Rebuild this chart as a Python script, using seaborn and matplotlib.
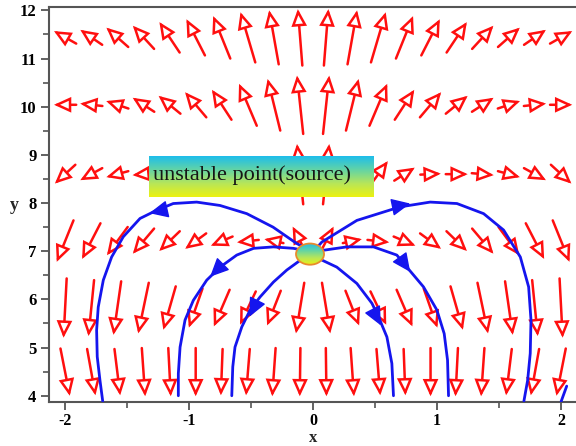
import numpy as np
import matplotlib
matplotlib.use('Agg')
import matplotlib.pyplot as plt
import seaborn as sns
from matplotlib.colors import LinearSegmentedColormap
from matplotlib.patches import Ellipse

sns.set_theme(style='ticks')
plt.rcParams['font.family'] = ['Liberation Serif', 'DejaVu Serif']
plt.rcParams['axes.unicode_minus'] = False

# ---------------- direction field ----------------
X_COLS = [-2.0, -1.789, -1.579, -1.368, -1.158, -0.947, -0.737, -0.526, -0.316, -0.105,
          0.105, 0.316, 0.526, 0.737, 0.947, 1.158, 1.368, 1.579, 1.789, 2.0]
ROW_Y = [11.44, 10.04, 8.60, 7.21, 5.82, 4.49]

U_ROW1 = [-0.179, -0.176, -0.176, -0.171, -0.163, -0.149, -0.138, -0.119, -0.077, -0.036,
          0.036, 0.077, 0.119, 0.138, 0.149, 0.163, 0.171, 0.176, 0.176, 0.179]
V_ROW1 = [0.26, 0.31, 0.40, 0.48, 0.63, 0.75, 0.88, 1.04, 1.12, 1.17,
          1.17, 1.12, 1.04, 0.88, 0.75, 0.63, 0.48, 0.40, 0.31, 0.26]
U_ROW2 = [-0.179, -0.179, -0.179, -0.174, -0.176, -0.171, -0.157, -0.143, -0.102, -0.05,
          0.05, 0.102, 0.143, 0.157, 0.171, 0.176, 0.174, 0.179, 0.179, 0.179]
V_ROW2 = [0.0, 0.05, 0.155, 0.29, 0.37, 0.52, 0.62, 0.87, 1.07, 1.21,
          1.21, 1.07, 0.87, 0.62, 0.52, 0.37, 0.29, 0.155, 0.05, 0.0]
U_ROW3 = [-0.165, -0.177, -0.177, -0.177, -0.177, -0.165, -0.165, -0.153, -0.11, -0.05,
          0.05, 0.11, 0.153, 0.165, 0.165, 0.177, 0.177, 0.177, 0.177, 0.165]
V_ROW3 = [-0.39, -0.25, -0.124, -0.04, 0.0, 0.02, 0.27, 0.54, 0.76, 1.25,
          1.25, 0.76, 0.54, 0.27, 0.02, 0.0, -0.04, -0.124, -0.25, -0.39]
U_ROW4 = [-0.135, -0.148, -0.167, -0.171, -0.165, -0.169, -0.175, -0.175, -0.153, -0.12,
          0.12, 0.153, 0.175, 0.175, 0.169, 0.165, 0.171, 0.167, 0.148, 0.135]
V_ROW4 = [-0.86, -0.74, -0.585, -0.52, -0.41, -0.32, -0.19, -0.05, 0.083, 0.6,
          0.6, 0.083, -0.05, -0.19, -0.32, -0.41, -0.52, -0.585, -0.74, -0.86]
U_ROW5 = [-0.025, -0.045, -0.062, -0.085, -0.1, -0.11, -0.127, -0.127, -0.11, -0.067,
          0.067, 0.11, 0.127, 0.127, 0.11, 0.1, 0.085, 0.062, 0.045, 0.025]
V_ROW5 = [-1.23, -1.16, -1.11, -1.05, -0.9, -0.81, -0.76, -0.69, -0.72, -1.05,
          -1.05, -0.72, -0.69, -0.76, -0.81, -0.9, -1.05, -1.11, -1.16, -1.23]
U_ROW6 = [0.075, 0.067, 0.046, 0.027, 0.02, 0.0, -0.014, -0.03, -0.027, -0.005,
          0.005, 0.027, 0.03, 0.014, 0.0, -0.02, -0.027, -0.046, -0.067, -0.075]
V_ROW6 = [-0.98, -0.96, -0.96, -1.0, -1.0, -1.0, -0.96, -0.96, -1.0, -1.0,
          -1.0, -1.0, -0.96, -0.96, -1.0, -1.0, -1.0, -0.96, -0.96, -0.98]
U_ROWS = [U_ROW1, U_ROW2, U_ROW3, U_ROW4, U_ROW5, U_ROW6]
V_ROWS = [V_ROW1, V_ROW2, V_ROW3, V_ROW4, V_ROW5, V_ROW6]

# ---------------- trajectories ----------------
OUTER_L_X = [0.0, -0.132, -0.323, -0.535, -0.751, -0.939, -1.128, -1.262, -1.396, -1.531,
             -1.625, -1.692, -1.733, -1.746, -1.741, -1.719, -1.697]
OUTER_L_Y = [6.98, 7.16, 7.50, 7.78, 7.95, 8.02, 7.99, 7.85, 7.68, 7.30,
             6.88, 6.40, 5.84, 5.36, 4.81, 4.32, 3.89]
MID_L_X = [0.0, -0.159, -0.32, -0.48, -0.616, -0.75, -0.858, -0.966, -1.033, -1.073, -1.087, -1.087]
MID_L_Y = [6.98, 7.06, 7.09, 7.06, 6.92, 6.67, 6.40, 5.98, 5.57, 5.01, 4.46, 4.0]
INNER_L_X = [0.0, -0.105, -0.212, -0.32, -0.428, -0.508, -0.575, -0.63, -0.648, -0.656]
INNER_L_Y = [6.95, 6.81, 6.61, 6.36, 6.05, 5.78, 5.43, 5.01, 4.60, 4.0]
OUTER_R_X = [0.0, 0.07, 0.353, 0.70, 0.944, 1.16, 1.375, 1.536, 1.671, 1.738, 1.757, 1.751, 1.73, 1.70]
OUTER_R_Y = [6.98, 7.19, 7.64, 7.92, 8.02, 7.99, 7.78, 7.44, 6.88, 6.26, 5.57, 4.88, 4.32, 3.89]
MID_R_X = [0.0, 0.083, 0.272, 0.487, 0.675, 0.756, 0.89, 0.998, 1.057, 1.084, 1.092]
MID_R_Y = [6.98, 7.02, 7.09, 7.09, 6.92, 6.67, 6.26, 5.78, 5.29, 4.74, 4.0]
INNER_R_X = [0.0, 0.043, 0.191, 0.353, 0.474, 0.527, 0.595, 0.635, 0.648]
INNER_R_Y = [6.95, 6.85, 6.67, 6.33, 5.92, 5.64, 5.22, 4.67, 4.0]
CORNER_X = [2.0, 2.045]
CORNER_Y = [3.88, 4.2]
TRAJ = [(OUTER_L_X, OUTER_L_Y), (MID_L_X, MID_L_Y), (INNER_L_X, INNER_L_Y),
        (OUTER_R_X, OUTER_R_Y), (MID_R_X, MID_R_Y), (INNER_R_X, INNER_R_Y),
        (CORNER_X, CORNER_Y)]

# blue arrow heads: base point -> tip point
HEAD_BASE = [(-1.20, 7.86), (-0.737, 6.71), (-0.454, 5.95), (0.67, 7.93), (0.716, 6.81), (0.482, 5.78)]
HEAD_TIP = [(-1.32, 7.79), (-0.831, 6.47), (-0.514, 5.64), (0.783, 7.99), (0.783, 6.57), (0.546, 5.46)]

LABEL_TEXT = 'unstable point(source)'
TICKS_X = [-2, -1, 0, 1, 2]
TICKS_Y = [4, 5, 6, 7, 8, 9, 10, 11, 12]

RED = '#FF0F0F'
BLUE = '#1515EE'

fig = plt.figure(figsize=(5.76, 4.46), dpi=100)
ax = fig.add_axes([49 / 576, 1 - 402 / 446, (576 - 49) / 576, (402 - 7) / 446])
ax.set_facecolor('white')

# direction field arrows
for i, yc in enumerate(ROW_Y):
    for j, xc in enumerate(X_COLS):
        u, v = U_ROWS[i][j], V_ROWS[i][j]
        ax.annotate('', xy=(xc + u / 2, yc + v / 2), xytext=(xc - u / 2, yc - v / 2),
                    xycoords='data', textcoords='data', annotation_clip=False,
                    arrowprops=dict(arrowstyle='-|>,head_length=1.1,head_width=0.5',
                                    mutation_scale=8.5, lw=1.8, ec=RED, fc='white',
                                    shrinkA=0, shrinkB=0, joinstyle='miter'),
                    zorder=2)

# trajectories
for tx, ty in TRAJ:
    sns.lineplot(x=tx, y=ty, sort=False, estimator=None, color=BLUE, lw=2.0, ax=ax, zorder=3)

for b, t in zip(HEAD_BASE, HEAD_TIP):
    ax.annotate('', xy=t, xytext=b, xycoords='data', textcoords='data',
                arrowprops=dict(arrowstyle='-|>,head_length=0.9,head_width=0.42',
                                mutation_scale=13, lw=1.0, ec=BLUE, fc=BLUE,
                                shrinkA=0, shrinkB=0),
                zorder=4)

cmap = LinearSegmentedColormap.from_list('cy', ['#1DBDEC', '#62D4A6', '#B7E65A', '#ECF210'])
grad = np.linspace(0, 1, 256).reshape(-1, 1)

# label box with gradient
bx0, bx1, by0, by1 = -1.326, 0.487, 8.13, 8.98
ax.imshow(grad, extent=[bx0, bx1, by0, by1], origin='upper', aspect='auto', cmap=cmap, zorder=6)
ax.text(-1.29, 8.58, LABEL_TEXT, fontsize=16, color='#151515', va='center', ha='left',
        family=['Liberation Serif', 'DejaVu Serif'], zorder=7)

# source oval with gradient
ecx, ecy, ew, eh = -0.025, 6.94, 0.226, 0.44
im = ax.imshow(grad, extent=[ecx - ew / 2, ecx + ew / 2, ecy - eh / 2, ecy + eh / 2],
               origin='upper', aspect='auto', cmap=cmap, zorder=8)
clip = Ellipse((ecx, ecy), ew, eh, transform=ax.transData)
im.set_clip_path(clip)
ax.add_patch(Ellipse((ecx, ecy), ew, eh, fc='none', ec='#E98A2C', lw=1.3, zorder=9))

ax.set_xlim(-2.13, 2.12)
ax.set_ylim(3.87, 12.07)

ax.set_xticks(TICKS_X)
ax.set_xticks([-1.5, -0.5, 0.5, 1.5], minor=True)
ax.set_yticks(TICKS_Y)
ax.set_yticks([4.5, 5.5, 6.5, 7.5, 8.5, 9.5, 10.5, 11.5], minor=True)
ax.set_xticklabels([str(t) for t in TICKS_X], fontweight='bold', fontsize=11.5)
ax.set_yticklabels([str(t) for t in TICKS_Y], fontweight='bold', fontsize=12)
ax.tick_params(which='major', direction='out', length=6, width=1.3, color='#555555',
               labelcolor='black', pad=2)
ax.tick_params(which='minor', direction='out', length=4.5, width=1.2, color='#555555')
ax.tick_params(axis='y', which='major', pad=3)

for s in ['left', 'bottom', 'top']:
    ax.spines[s].set_color('#555555')
    ax.spines[s].set_linewidth(1.5)
ax.spines['right'].set_visible(False)

ax.set_xlabel('x', fontweight='bold', fontsize=12)
ax.set_ylabel('y', fontweight='bold', fontsize=13, rotation=0)
ax.xaxis.set_label_coords(0.501, -0.071)
ax.yaxis.set_label_coords(-0.066, 0.475)

fig.savefig('out.png', dpi=100)
